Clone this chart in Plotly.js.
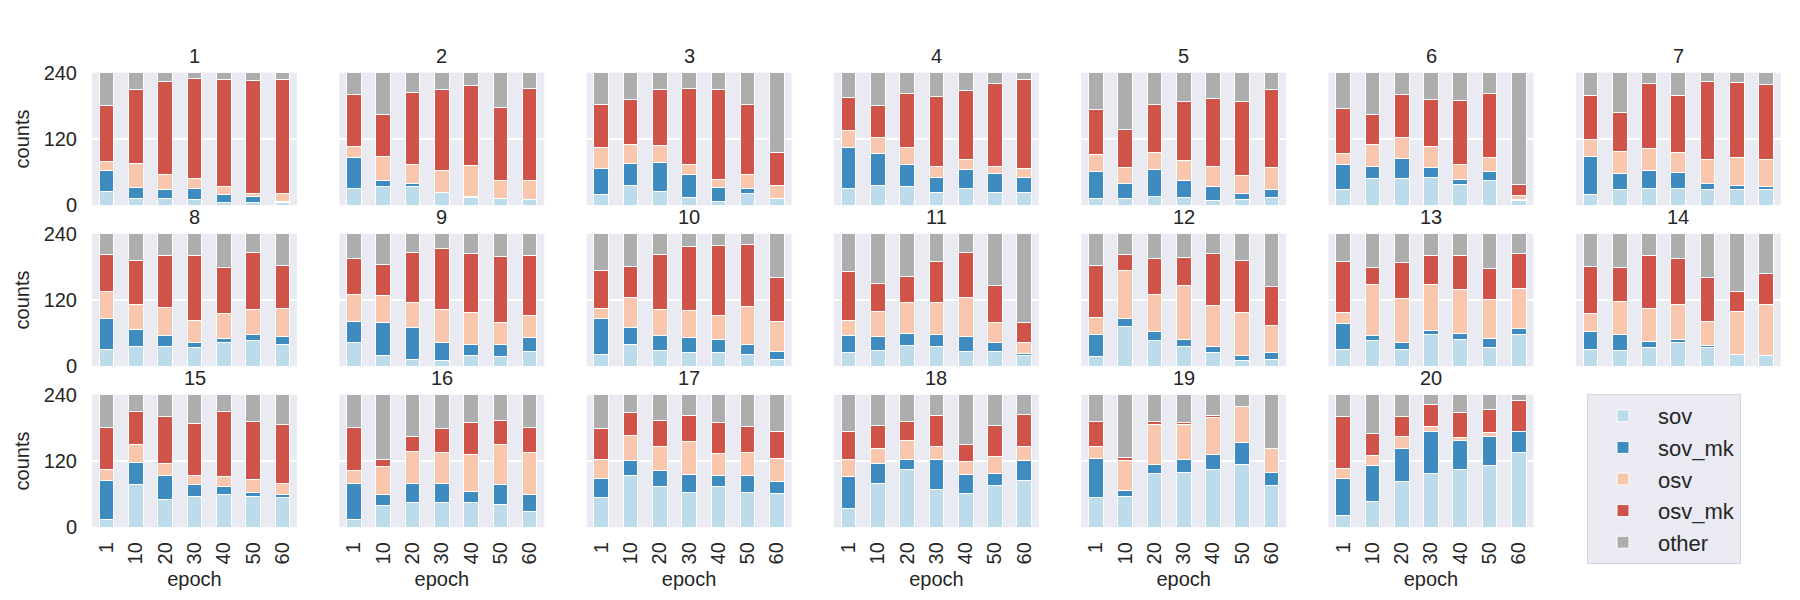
<!DOCTYPE html>
<html>
<head>
<meta charset="utf-8">
<script src="https://cdn.plot.ly/plotly-3.0.1.min.js"></script>
<style>
  body { margin: 0; background: #fff; }
  #chart { width: 1800px; height: 600px; }
</style>
</head>
<body>
<div id="chart"></div>
<script>
// epochs on the x axis of every panel
var epochs = ['1', '10', '20', '30', '40', '50', '60'];
var panelTitles = ['1','2','3','4','5','6','7','8','9','10','11','12','13','14','15','16','17','18','19','20'];

// counts per panel (20 panels x 7 epochs)
var sov = [
  [24,13,12,10,5,5,4],
  [31,33,33,23,14,12,10],
  [20,36,24,14,7,22,12],
  [31,35,34,23,30,23,23],
  [13,13,16,14,9,11,14],
  [28,49,49,51,37,45,8],
  [19,28,31,31,28,28,28],
  [31,36,36,34,43,46,40],
  [43,19,13,10,20,18,27],
  [22,40,29,24,25,22,13],
  [24,29,38,36,27,27,20],
  [17,72,46,36,24,11,13],
  [31,47,31,57,49,34,57],
  [31,28,33,43,34,21,19],
  [14,77,51,56,59,56,54],
  [14,40,44,45,44,41,28],
  [53,94,74,62,74,62,61],
  [34,80,104,68,61,76,84],
  [53,55,97,99,105,114,76],
  [21,47,83,97,105,112,135]
];
var sovMk = [
  [38,19,16,20,14,11,3],
  [56,12,7,0,2,0,0],
  [46,39,53,41,25,9,0],
  [74,59,40,27,35,34,27],
  [48,26,48,30,24,10,14],
  [45,21,35,17,9,16,3],
  [69,30,32,28,12,8,5],
  [55,30,19,9,8,11,14],
  [38,60,57,33,19,21,25],
  [64,30,26,28,24,18,14],
  [31,24,22,21,26,16,3],
  [40,14,17,12,12,8,11],
  [46,9,12,8,10,17,11],
  [32,29,12,6,3,0,0],
  [71,41,42,21,14,6,5],
  [66,19,36,34,20,36,32],
  [36,26,29,34,20,31,22],
  [58,36,19,54,34,22,36],
  [72,12,17,24,27,40,23],
  [67,64,59,77,52,52,39]
];
var osv = [
  [18,44,28,18,14,6,15],
  [20,43,34,40,56,33,35],
  [39,35,32,19,15,25,24],
  [30,29,30,20,18,13,16],
  [31,29,31,37,37,33,40],
  [20,40,39,39,28,25,6],
  [31,40,40,36,43,51,50],
  [50,46,52,40,45,46,51],
  [49,49,46,59,59,41,40],
  [19,54,48,49,43,68,54],
  [28,46,56,59,72,36,20],
  [31,87,67,99,74,79,50],
  [21,92,79,83,80,70,73],
  [32,61,60,63,44,78,93],
  [20,31,22,17,19,24,21],
  [22,51,57,56,68,72,75],
  [33,47,43,59,39,42,42],
  [31,27,34,24,24,30,27],
  [21,54,72,63,66,64,44],
  [18,19,23,9,6,8,0]
];
var osvMk = [
  [100,134,168,181,194,204,205],
  [93,76,130,146,144,132,167],
  [78,82,100,138,162,127,59],
  [60,58,99,127,124,150,161],
  [81,70,87,107,124,134,141],
  [83,54,77,85,115,116,20],
  [80,70,117,104,141,135,136],
  [66,79,93,117,83,103,77],
  [65,57,90,111,106,118,108],
  [68,56,99,115,127,112,79],
  [88,51,47,73,81,67,36],
  [95,29,65,50,94,93,70],
  [91,30,66,52,61,56,63],
  [85,60,95,83,79,36,56],
  [75,60,85,93,117,105,106],
  [78,12,27,43,57,44,45],
  [56,40,47,47,56,47,48],
  [50,42,34,56,30,56,58],
  [45,5,6,3,5,0,0],
  [95,39,35,39,44,41,55]
];
var other = [
  [60,30,16,11,13,14,13],
  [40,76,36,31,24,63,28],
  [57,48,31,28,31,57,145],
  [45,59,37,43,33,20,13],
  [67,102,58,52,46,52,31],
  [64,76,40,48,51,38,203],
  [41,72,20,41,16,18,21],
  [38,49,40,40,61,34,58],
  [45,55,34,27,36,42,40],
  [67,60,38,24,21,20,80],
  [69,90,77,51,34,94,161],
  [57,38,45,43,36,49,96],
  [51,62,52,40,40,63,36],
  [60,62,40,45,80,105,72],
  [60,31,40,53,31,49,54],
  [60,118,76,62,51,47,60],
  [62,33,47,38,51,58,67],
  [67,55,49,38,91,56,35],
  [49,114,48,51,37,22,97],
  [39,71,40,18,33,27,11]
];

var series = [
  { name: 'sov',    vals: sov,   color: '#bcdceb' },
  { name: 'sov_mk', vals: sovMk, color: '#3d8bbf' },
  { name: 'osv',    vals: osv,   color: '#f9c7ae' },
  { name: 'osv_mk', vals: osvMk, color: '#d0534a' },
  { name: 'other',  vals: other, color: '#adadad' }
];

var W = 1800, H = 600;
var colLeft = 92, colPitch = 247.3, colW = 205;
var rowTop = [72.7, 233.7, 394.7], rowH = 132.5;
var txt = '#262626';
var fontFam = 'Liberation Sans, Arial, sans-serif';

var data = [];
var layout = {
  width: W, height: H,
  margin: { l: 0, r: 0, t: 0, b: 0 },
  paper_bgcolor: '#ffffff',
  plot_bgcolor: '#eaeaf2',
  barmode: 'stack',
  bargap: 0.5,
  font: { family: fontFam, size: 20, color: txt },
  showlegend: true,
  legend: {
    x: 1587 / W, y: 1 - 394 / H, xanchor: 'left', yanchor: 'top',
    bgcolor: '#eaeaf2', bordercolor: '#d4d4dc', borderwidth: 1,
    font: { size: 22, color: txt }, traceorder: 'normal',
    itemwidth: 60, tracegroupgap: 2
  },
  annotations: []
};

for (var k = 0; k < panelTitles.length; k++) {
  var row = Math.floor(k / 7), col = k % 7;
  var sfx = k === 0 ? '' : String(k + 1);
  var x0 = colLeft + col * colPitch;
  var y0 = rowTop[row];

  series.forEach(function (s) {
    data.push({
      type: 'bar',
      name: s.name,
      legendgroup: s.name,
      showlegend: k === 0,
      x: epochs,
      y: s.vals[k],
      xaxis: 'x' + sfx,
      yaxis: 'y' + sfx,
      marker: { color: s.color, line: { color: '#ffffff', width: 1 } },
      hovertemplate: s.name + ' %{y}<extra></extra>'
    });
  });

  var bottomRow = k >= 14;
  layout['xaxis' + sfx] = {
    domain: [x0 / W, (x0 + colW) / W],
    anchor: 'y' + sfx,
    type: 'category',
    showgrid: true, gridcolor: '#ffffff', gridwidth: 1,
    zeroline: false, showline: false,
    ticks: bottomRow ? 'outside' : '', ticklen: 6, tickcolor: 'rgba(0,0,0,0)',
    showticklabels: bottomRow,
    tickangle: -90,
    tickfont: { size: 20, color: txt },
    title: bottomRow ? { text: 'epoch', font: { size: 20, color: txt }, standoff: 8 } : { text: '' }
  };
  layout['yaxis' + sfx] = {
    domain: [1 - (y0 + rowH) / H, 1 - y0 / H],
    anchor: 'x' + sfx,
    range: [0, 240],
    tickvals: [0, 120, 240],
    showgrid: true, gridcolor: '#ffffff', gridwidth: 1.2,
    zeroline: false, showline: false,
    ticks: col === 0 ? 'outside' : '', ticklen: 10, tickcolor: 'rgba(0,0,0,0)',
    showticklabels: col === 0,
    tickfont: { size: 20, color: txt },
    title: col === 0 ? { text: 'counts', font: { size: 20, color: txt }, standoff: 8 } : { text: '' }
  };

  layout.annotations.push({
    text: panelTitles[k],
    xref: 'paper', yref: 'paper',
    x: (x0 + colW / 2) / W, y: 1 - y0 / H,
    xanchor: 'center', yanchor: 'bottom', yshift: 4,
    showarrow: false,
    font: { size: 20, color: txt }
  });
}

Plotly.newPlot('chart', data, layout, { displayModeBar: false, staticPlot: true });
</script>
</body>
</html>
